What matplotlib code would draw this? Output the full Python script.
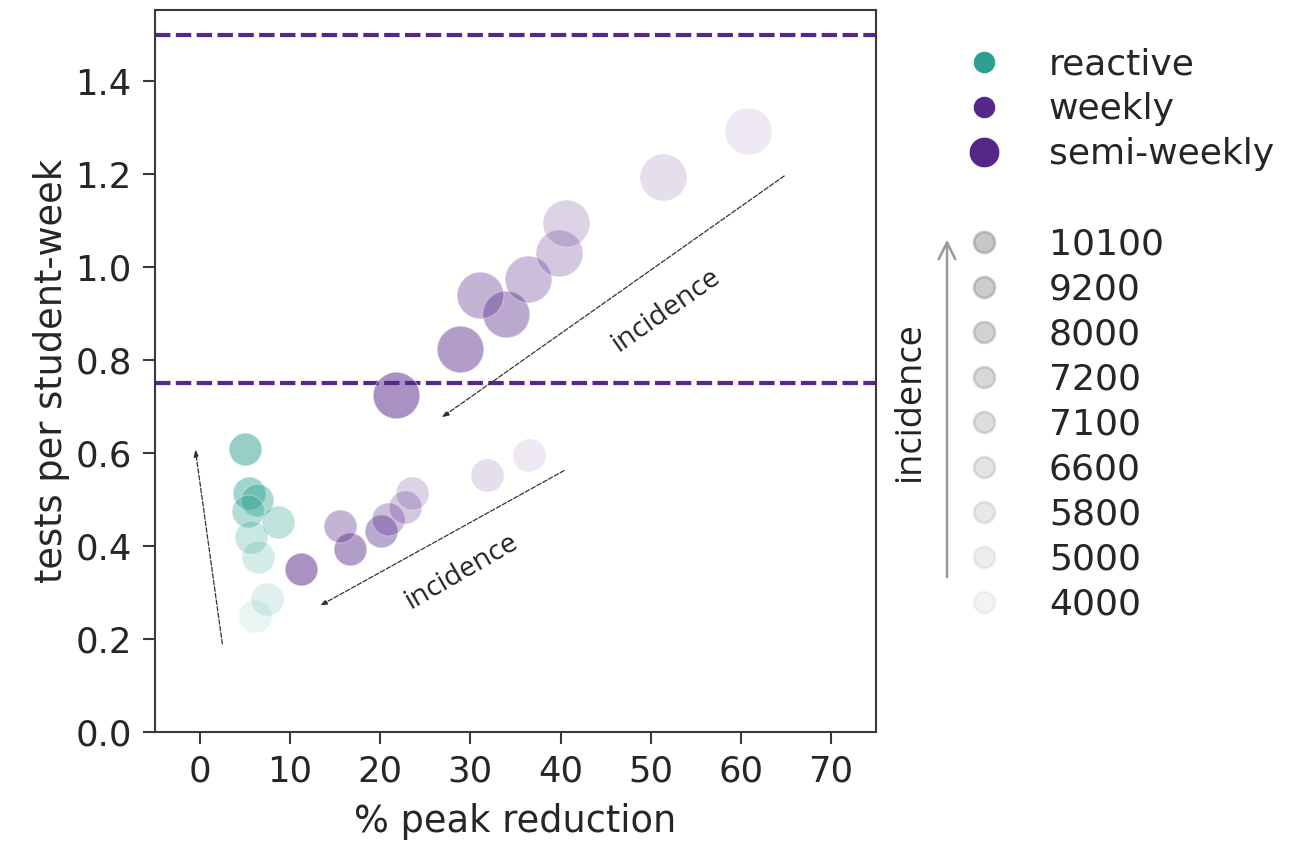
import matplotlib
matplotlib.use("Agg")
import matplotlib.pyplot as plt
from matplotlib.lines import Line2D
from matplotlib.patches import FancyArrowPatch
import seaborn as sns

# ── data ────────────────────────────────────────────────────────────────
incidence = [10100, 9200, 8000, 7200, 7100, 6600, 5800, 5000, 4000]

reactive_red = [5.0, 5.5, 6.3, 5.3, 8.7, 5.7, 6.5, 7.4, 6.1]
reactive_tests = [0.609, 0.513, 0.499, 0.474, 0.452, 0.419, 0.375, 0.286, 0.249]

weekly_red = [11.2, 16.6, 20.1, 15.6, 20.9, 22.8, 23.5, 31.9, 36.5]
weekly_tests = [0.350, 0.394, 0.431, 0.443, 0.457, 0.483, 0.513, 0.552, 0.595]

semi_red = [21.7, 28.9, 34.0, 31.1, 36.4, 39.8, 40.6, 51.4, 60.8]
semi_tests = [0.725, 0.823, 0.900, 0.940, 0.974, 1.030, 1.095, 1.194, 1.293]

nominal_tests = [0.75, 1.5]

TEAL = "#2ca090"
PURPLE = "#542788"
SPINE = "#3a3a3a"

sns.set_theme(style="ticks")
plt.rcParams["font.family"] = ["DejaVu Sans"]

fig = plt.figure(figsize=(13, 8.42), dpi=100)
ax = fig.add_axes([0.119, 0.131, 0.555, 0.857])

# alpha grows with incidence (rank based)
n = len(incidence)
alphas = [0.1 + 0.4 * (n - 1 - i) / (n - 1) for i in range(n)]

for i in range(n):
    ax.scatter(reactive_red[i], reactive_tests[i], s=560, color=TEAL,
               alpha=alphas[i], edgecolor="white", linewidth=0.8, zorder=3)
    ax.scatter(weekly_red[i], weekly_tests[i], s=560, color=PURPLE,
               alpha=alphas[i], edgecolor="white", linewidth=0.8, zorder=3)
    ax.scatter(semi_red[i], semi_tests[i], s=1130, color=PURPLE,
               alpha=alphas[i], edgecolor="white", linewidth=0.8, zorder=3)

for yv in nominal_tests:
    ax.axhline(yv, color=PURPLE, lw=3, ls=(0, (3.7, 1.3)), zorder=2)

# incidence direction arrows
arrow_kw = dict(arrowstyle="-|>,head_width=0.12,head_length=0.35",
                color="#333333", lw=0.9, ls="--", shrinkA=0, shrinkB=0)
ax.annotate("", xy=(-0.5, 0.608), xytext=(2.5, 0.189), arrowprops=arrow_kw)
ax.annotate("", xy=(13.3, 0.271), xytext=(40.4, 0.562), arrowprops=arrow_kw)
ax.annotate("", xy=(26.8, 0.676), xytext=(64.8, 1.196), arrowprops=arrow_kw)
ax.text(29.1, 0.344, "incidence", rotation=30, ha="center", va="center",
        fontsize=20.5, family="Open Sans", color="#222222")
ax.text(51.7, 0.908, "incidence", rotation=35, ha="center", va="center",
        fontsize=20.5, family="Open Sans", color="#222222")

ax.set_xlim(-5, 75)
ax.set_ylim(0, 1.553)
ax.set_xticks(range(0, 80, 10))
ax.set_yticks([0.0, 0.2, 0.4, 0.6, 0.8, 1.0, 1.2, 1.4])
ax.set_yticklabels([f"{v:.1f}" for v in [0.0, 0.2, 0.4, 0.6, 0.8, 1.0, 1.2, 1.4]])
ax.tick_params(labelsize=25.5, length=8.5, width=1.5, pad=8, color=SPINE)
for sp in ax.spines.values():
    sp.set_linewidth(1.5)
    sp.set_color(SPINE)
ax.set_xlabel("% peak reduction", fontsize=26.5, labelpad=10)
ax.set_ylabel("tests per student-week", fontsize=26.5)

# ── legend ──────────────────────────────────────────────────────────────
handles = [
    Line2D([], [], ls="", marker="o", ms=16, color=TEAL, mec="white", mew=0.5),
    Line2D([], [], ls="", marker="o", ms=16, color=PURPLE, mec="white", mew=0.5),
    Line2D([], [], ls="", marker="o", ms=22, color=PURPLE, mec="white", mew=0.5),
    Line2D([], [], ls="", marker=None),
]
labels = ["reactive", "weekly", "semi-weekly", ""]
for i, inc in enumerate(incidence):
    handles.append(Line2D([], [], ls="", marker="o", ms=15, color="#909090",
                          mew=2, alpha=alphas[i]))
    labels.append(str(inc))

fig.legend(handles, labels, loc="upper left", bbox_to_anchor=(0.729, 0.944),
           frameon=False, fontsize=26, labelspacing=0.305, borderpad=0,
           borderaxespad=0, handlelength=2.0, handletextpad=0.8)

fig.patches.append(FancyArrowPatch(
    (947 / 1300, 1 - 580 / 842), (947 / 1300, 1 - 237 / 842),
    transform=fig.transFigure, arrowstyle="->,head_width=0.3,head_length=0.6",
    color="#999999", lw=1.8, mutation_scale=20))
fig.text(910 / 1300, 1 - 402 / 842, "incidence", rotation=90, ha="center",
         va="center", fontsize=26, family="Open Sans", color="#222222")

fig.savefig("out.png", dpi=100)
